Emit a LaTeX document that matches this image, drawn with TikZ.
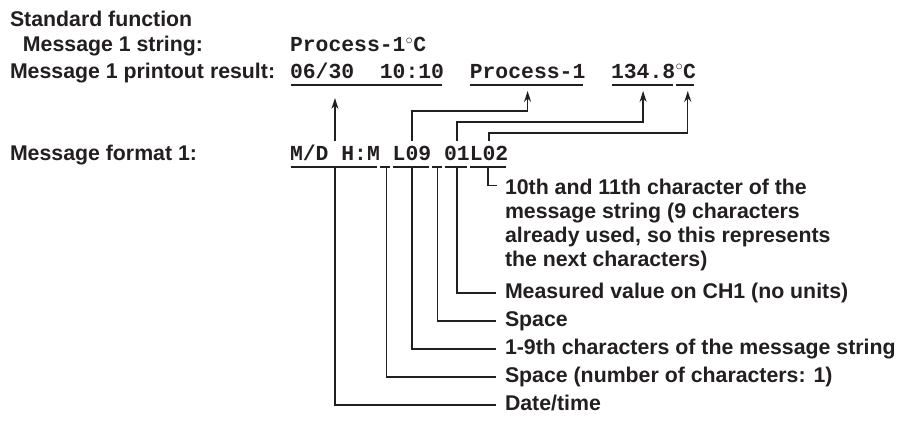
\documentclass[tikz,border=0pt]{standalone}
\usepackage{fontspec}
\setmainfont{Liberation Sans}
\setmonofont{Liberation Mono}
\usetikzlibrary{arrows.meta}
\definecolor{ink}{HTML}{231F20}
\begin{document}
\begin{tikzpicture}[x=1pt,y=-1pt,
  every node/.style={inner sep=0pt, outer sep=0pt, text=ink,
    font=\fontsize{21.3}{24}\selectfont\bfseries},
  lbl/.style={anchor=base west},
  mono/.style={anchor=base west, font=\fontsize{21.4}{24}\selectfont\ttfamily\bfseries},
  lab/.style={anchor=west, inner xsep=9pt, text height=16pt, text depth=4.5pt},
  conn/.style={draw=ink, line width=1.3pt},
  ul/.style={draw=ink, line width=1.6pt},
  arr/.style={conn, -{Stealth[length=11pt,width=7pt]}}
]
\useasboundingbox (0,0) rectangle (902,428);

% left labels
\node[lbl] (std) at (10,27) {Standard function};
\node[lbl] (m1s) at (23,52) {Message 1 string:};
\node[lbl] (m1p) at (10,78) {Message 1 printout result:};
\node[lbl] (mf)  at (10,160) {Message format 1:};

% message string
\node[mono] (str) at (290,52) {Process-1$^\circ$C};

% printout tokens
\node[mono] (t1) at (290,78) {06/30\phantom{00}10:10};
\node[mono] (t2) at (469.8,78) {Process-1};
\node[mono] (t3) at (611,78) {134.8};
\node[mono] (t4) at (675.5,78) {$^\circ$C};

% format tokens
\node[mono] (f1) at (290,160) {M/D H:M};
\node[mono] (f2) at (379.9,160) {\phantom{0}};
\node[mono] (f3) at (392.7,160) {L09};
\node[mono] (f4) at (431.2,160) {\phantom{0}};
\node[mono] (f5) at (444.1,160) {01};
\node[mono] (f6) at (469.8,160) {L02};

% underlines
\foreach \n in {t1,t2,t3,t4,f1,f2,f3,f4,f5,f6}{
  \draw[ul] ([xshift=0.5pt,yshift=-7pt]\n.base west) -- ([xshift=-2.5pt,yshift=-7pt]\n.base east);
  \coordinate (\n u) at ([yshift=-7pt]\n.base);
  \coordinate (\n t) at ([yshift=19pt]\n.base);
  \coordinate (\n a) at ([yshift=-6pt]\n.base);
}

% arrows up
\draw[arr] (f1t) -- ([yshift=-13pt]f1t |- t1u);
\draw[arr] (f3t) -- ++(0,-30) -| ([yshift=-6pt]t2u);
\draw[arr] (f5t) -- ++(0,-19) -| ([yshift=-6pt]t3u);
\draw[arr] (f6t) -- ++(0,-8) -| ([xshift=2pt,yshift=-6pt]t4u);

% explanations
\node[anchor=north west, align=left, inner xsep=9pt] (p) at (496,179.5)
  {10th and 11th character of the\\message string (9 characters\\already used, so this represents\\the next characters)};
\node[lab] (l5) at (496,293) {Measured value on CH1 (no units)};
\node[lab] (l4) at (496,321) {Space};
\node[lab] (l3) at (496,349) {1-9th characters of the message string};
\node[lab] (l2) at (496,377) {Space (number of characters: 1)};
\node[lab] (l1) at (496,405) {Date/time};

\draw[conn] ([xshift=-1pt]f6u) |- ([xshift=1pt,yshift=-6pt]p.north west);
\draw[conn] (f5u) |- (l5.west);
\draw[conn] (f4u) |- (l4.west);
\draw[conn] (f3u) |- (l3.west);
\draw[conn] (f2u) |- (l2.west);
\draw[conn] (f1u) |- (l1.west);
\end{tikzpicture}
\end{document}
